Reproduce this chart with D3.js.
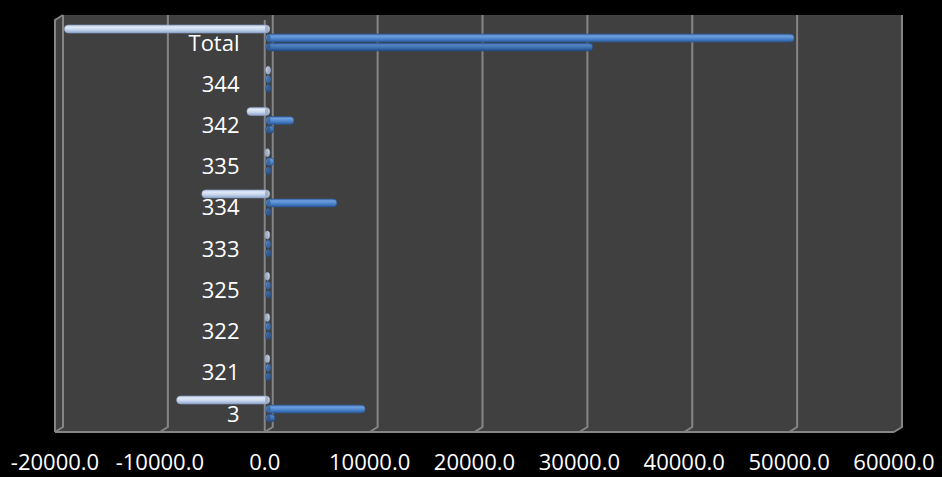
<!DOCTYPE html>
<html><head><meta charset="utf-8">
<script src="https://cdn.jsdelivr.net/npm/d3@7"></script>
<style>html,body{margin:0;padding:0;background:#000;}svg{display:block;}</style>
</head><body>
<svg id="chart" width="942" height="477"></svg>
<script>
const categories = ["Total","344","342","335","334","333","325","322","321","3"];
const seriesLight = [-19200, 60, -1800, -60, -6100, -60, -60, -60, -60, -8500];
const seriesBlue  = [50000, 60, 2300, 400, 6400, 60, 60, 60, 60, 9100];
const seriesDark  = [30800, 100, 400, 100, 100, 100, 100, 100, 100, 500];
const xTicks = [-20000,-10000,0,10000,20000,30000,40000,50000,60000];

(function(){
const svg = d3.select("#chart");
const W = 942, H = 477;
svg.append("rect").attr("width",W).attr("height",H).attr("fill","#000");

const depthX = -8, depthY = 5;
const yTop = 15, yBot = 427;
const x = d3.scaleLinear().domain([-20000,60000]).range([63,902]);
const xb = d3.scaleLinear().domain([-20000,60000]).range([63-5,902-5]);
const y = d3.scalePoint().domain(categories).range([42.5,413.5]);
const fmt = d3.formatLocale({decimal:".",thousands:",",grouping:[3],currency:["",""],minus:"-"}).format(".1f");

const defs = svg.append("defs");
function grad(id, stops){
  const g = defs.append("linearGradient").attr("id",id).attr("x1",0).attr("y1",0).attr("x2",0).attr("y2",1);
  stops.forEach(s=>g.append("stop").attr("offset",s[0]).attr("stop-color",s[1]));
}
grad("gLight",[[0,"#aebfdc"],[0.25,"#e2eaf7"],[0.6,"#c6d5ec"],[1,"#8ea5cb"]]);
grad("gBlue",[[0,"#3e6cab"],[0.25,"#6fa0e0"],[0.6,"#4c84cc"],[1,"#2c5a98"]]);
grad("gDark",[[0,"#335f9a"],[0.25,"#5586c6"],[0.6,"#3c6eae"],[1,"#234a80"]]);

const x0 = x(-20000), x1 = x(60000);
svg.append("rect").attr("x",x0).attr("y",yTop).attr("width",x1-x0).attr("height",yBot-yTop).attr("fill","#404040");
svg.append("path").attr("d",`M${x0},${yTop}L${x0+depthX},${yTop+depthY}L${x0+depthX},${yBot+depthY}L${x0},${yBot}Z`).attr("fill","#404040");
svg.append("path").attr("d",`M${x0},${yBot}L${x1},${yBot}L${x1+depthX},${yBot+depthY}L${x0+depthX},${yBot+depthY}Z`).attr("fill","#404040");

const gridCol = "#858585";
xTicks.forEach(t=>{
  const xx = x(t);
  svg.append("path").attr("d",`M${xx},${yTop}L${xx},${yBot}L${xx+depthX},${yBot+depthY}`)
    .attr("fill","none").attr("stroke",gridCol).attr("stroke-width",2);
});
svg.append("line").attr("x1",x0+depthX).attr("x2",x1+depthX).attr("y1",yBot+depthY).attr("y2",yBot+depthY)
  .attr("stroke",gridCol).attr("stroke-width",2);
svg.append("path").attr("d",`M${x0},${yTop}L${x0+depthX},${yTop+depthY}L${x0+depthX},${yBot+depthY}`)
  .attr("fill","none").attr("stroke",gridCol).attr("stroke-width",2);
svg.append("line").attr("x1",x(0)+depthX).attr("x2",x(0)+depthX).attr("y1",yTop+depthY).attr("y2",yBot+depthY)
  .attr("stroke",gridCol).attr("stroke-width",2);

const barH = 8;
const series = [
  {vals:seriesLight, off:-13.5, fill:"url(#gLight)", stroke:"#8ea3c6", cap:"#9aa8bd"},
  {vals:seriesBlue,  off:-4.5,  fill:"url(#gBlue)",  stroke:"#2d5790", cap:"#3d6494"},
  {vals:seriesDark,  off:4.5,   fill:"url(#gDark)",  stroke:"#22467a", cap:"#34557f"}
];
series.forEach(s=>{
  const g = svg.append("g");
  g.selectAll("rect").data(categories).join("rect")
    .attr("x",(c,i)=>Math.min(xb(0),xb(s.vals[i]))-2)
    .attr("width",(c,i)=>Math.abs(xb(s.vals[i])-xb(0))+4)
    .attr("y",c=>y(c)+s.off-barH/2)
    .attr("height",barH)
    .attr("rx",4).attr("ry",4)
    .attr("fill",s.fill)
    .attr("stroke",s.stroke).attr("stroke-width",0.6);
  g.selectAll("ellipse").data(categories).join("ellipse")
    .attr("cx",(c,i)=> s.vals[i] < 0 ? xb(0)-1 : xb(0)+1)
    .attr("cy",c=>y(c)+s.off)
    .attr("rx",1.8).attr("ry",barH/2-0.5)
    .attr("fill",s.cap).attr("opacity",0.8);
});

svg.append("g").selectAll("text").data(categories).join("text")
  .attr("x",239.5).attr("y",c=>y(c)+8)
  .attr("text-anchor","end")
  .attr("font-family","'Open Sans', sans-serif").attr("font-size",22)
  .attr("fill","#fff").text(c=>c);

svg.append("g").selectAll("text").data(xTicks).join("text")
  .attr("x",t=>x(t)+depthX).attr("y",469.5)
  .attr("text-anchor","middle")
  .attr("font-family","'Open Sans', sans-serif").attr("font-size",22)
  .attr("fill","#fff").text(t=>fmt(t));
})();
</script>
</body></html>
